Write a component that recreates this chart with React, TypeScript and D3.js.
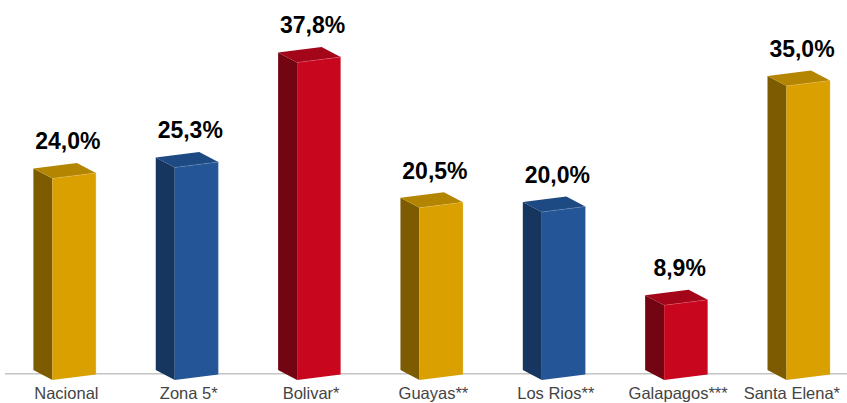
import React, { useEffect, useRef } from "react";
import * as d3 from "d3";

const categories = ["Nacional", "Zona 5*", "Bolivar*", "Guayas**", "Los Rios**", "Galapagos***", "Santa Elena*"];
const values = [24.0, 25.3, 37.8, 20.5, 20.0, 8.9, 35.0];
const colorKeys = ["gold", "blue", "red", "gold", "blue", "red", "gold"];

const palette: Record<string, { front: string; side: string; top: string; edge: string }> = {
  gold: { front: "#D9A000", side: "#7D5B00", top: "#B38500", edge: "#E8C060" },
  blue: { front: "#245596", side: "#17365F", top: "#1E4A84", edge: "#6F8FC0" },
  red: { front: "#C8071E", side: "#730512", top: "#A30519", edge: "#E06070" },
};

export default function App() {
  const ref = useRef<SVGSVGElement>(null);

  useEffect(() => {
    const svg = d3.select(ref.current);
    svg.selectAll("*").remove();

    const W = 847;
    const baseY = 380;
    const frontW = 43.5;
    const frontDy = -5.5;
    const depthX = -19;
    const depthY = -10;

    const x = d3.scalePoint<string>().domain(categories).range([52.4, 786.5]);
    const y = d3.scaleLinear().domain([0, 40]).range([baseY, baseY - 336]);

    // axis line
    svg.append("line")
      .attr("x1", 5).attr("x2", W)
      .attr("y1", 373.7).attr("y2", 373.7)
      .attr("stroke", "#C4C4C4").attr("stroke-width", 1.5);

    const fmt = (v: number) => d3.format(".1f")(v).replace(".", ",") + "%";

    categories.forEach((c, i) => {
      const v = values[i];
      const col = palette[colorKeys[i]];
      const x0 = x(c)!;
      const yT = y(v);
      const yB = y(0);
      const pts = (arr: [number, number][]) => arr.map((p) => p.join(",")).join(" ");
      const fl_t: [number, number] = [x0, yT];
      const fr_t: [number, number] = [x0 + frontW, yT + frontDy];
      const fl_b: [number, number] = [x0, yB];
      const fr_b: [number, number] = [x0 + frontW, yB + frontDy];
      const bl_t: [number, number] = [x0 + depthX, yT + depthY];
      const bl_b: [number, number] = [x0 + depthX, yB + depthY];
      const br_t: [number, number] = [x0 + frontW + depthX, yT + frontDy + depthY];

      const g = svg.append("g");
      g.append("polygon").attr("points", pts([bl_t, fl_t, fl_b, bl_b])).attr("fill", col.side);
      g.append("polygon").attr("points", pts([bl_t, br_t, fr_t, fl_t])).attr("fill", col.top);
      g.append("polygon").attr("points", pts([fl_t, fr_t, fr_b, fl_b])).attr("fill", col.front);
      g.append("line")
        .attr("x1", fl_t[0]).attr("y1", fl_t[1]).attr("x2", fr_t[0]).attr("y2", fr_t[1])
        .attr("stroke", col.edge).attr("stroke-width", 0.6).attr("opacity", 0.7);
      g.append("line")
        .attr("x1", fr_t[0]).attr("y1", fr_t[1]).attr("x2", fr_b[0]).attr("y2", fr_b[1])
        .attr("stroke", col.edge).attr("stroke-width", 0.6).attr("opacity", 0.5);

      svg.append("text")
        .attr("x", x0 + 15.5)
        .attr("y", yT - 29)
        .attr("text-anchor", "middle")
        .attr("font-family", "'Liberation Sans', Arial, sans-serif")
        .attr("font-weight", "bold")
        .attr("font-size", 23)
        .attr("fill", "#000")
        .text(fmt(v));

      const t = svg.append("text")
        .attr("x", x0 + 14)
        .attr("y", 399)
        .attr("text-anchor", "middle")
        .attr("font-family", "'Liberation Sans', Arial, sans-serif")
        .attr("font-size", 16.5)
        .attr("fill", "#444")
        .text(c);
      const node = t.node() as SVGTextElement;
      const len = node.getComputedTextLength();
      const right = x0 + 14 + len / 2;
      if (right > 840) t.attr("x", 840 - len / 2);
    });
  }, []);

  return (
    <svg
      ref={ref}
      width={847}
      height={403}
      style={{ position: "absolute", left: 0, top: 0, background: "#fff" }}
    />
  );
}
